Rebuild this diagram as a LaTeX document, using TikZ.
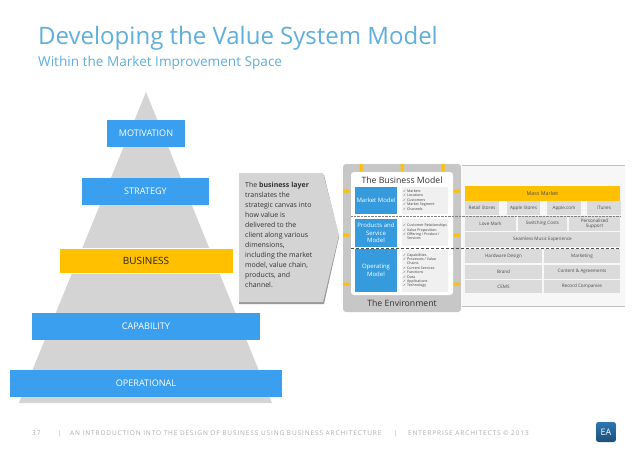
\documentclass[tikz,border=0pt]{standalone}
\usepackage{fontspec}
\setmainfont{Open Sans}
\newfontfamily\tickfont{DejaVu Sans}
\newcommand{\tk}{{\tickfont ✓}}
\usetikzlibrary{shadows}
\definecolor{eablue}{HTML}{3A9FEE}
\definecolor{eamodel}{HTML}{359BDD}
\definecolor{eatitle}{HTML}{5FAEDB}
\definecolor{eagold}{HTML}{FFC000}
\definecolor{eagrey}{HTML}{D4D4D4}
\definecolor{eatext}{HTML}{ABABAB}
\tikzset{
  layerbox/.style={fill=eablue,text=white,font=\fontsize{9.1}{10}\selectfont},
  cell/.style={fill=black!14,text=black!70,inner sep=0,font=\fontsize{4.6}{5.2}\selectfont,align=center},
  modelbox/.style={fill=eamodel,text=white,inner sep=0,font=\fontsize{6}{7.4}\selectfont,align=center},
  ticks/.style={text=black!75,inner sep=0,font=\fontsize{3.6}{4.4}\selectfont,align=left,anchor=west},
  tab/.style={fill=eagold},
  foot/.style={text=eatext,inner sep=0,font=\fontsize{6.5}{7}\selectfont\addfontfeature{LetterSpace=13.6},anchor=west},
}
\begin{document}
\begin{tikzpicture}[x=1pt,y=-1pt]
  \useasboundingbox (0,0) rectangle (638,452);
  % titulo
  \node[text=eatitle,font=\fontsize{24}{28}\selectfont,anchor=west,inner sep=0] (title) at (38,38) {Developing the Value System Model};
  \node[text=eatitle,font=\fontsize{13.6}{16}\selectfont,anchor=west,inner sep=0] (subtitle) at (38,63) {Within the Market Improvement Space};
  % piramide
  \fill[eagrey] (146,92) -- (272,403) -- (19,403) -- cycle;
  \node[layerbox,minimum width=78,minimum height=27] (motivation) at (146,133.5) {MOTIVATION};
  \node[layerbox,minimum width=127,minimum height=27] (strategy) at (145.5,191.5) {STRATEGY};
  \node[fill=eagold,draw=white,line width=1pt,drop shadow={opacity=0.3,shadow xshift=1pt,shadow yshift=-1pt},text=black!85,font=\fontsize{10}{11}\selectfont,minimum width=174,minimum height=25] (business) at (146,260.5) {BUSINESS};
  \node[layerbox,minimum width=228,minimum height=27] (capability) at (146,326.5) {CAPABILITY};
  \node[layerbox,minimum width=272,minimum height=27] (operational) at (146,383.5) {OPERATIONAL};
  % flecha de texto
  \fill[black!40] (239,175) -- (324,175) -- (339,237) -- (324,304) -- (239,304) -- cycle;
  \fill[eagrey] (239,173) -- (323,173) -- (339,235) -- (323,302) -- (239,302) -- cycle;
  \node[anchor=north west,inner sep=0,align=left,text=black!80,font=\fontsize{7}{10}\selectfont] (layertext) at (245,182) {The \textbf{business layer}\\translates the\\strategic canvas into\\how value is\\delivered to the\\client along various\\dimensions,\\including the market\\model, value chain,\\products, and\\channel.};
  % panel de la derecha
  \fill[black!3] (462,165) rectangle (625,306);
  \draw[black!25,line width=0.6pt] (462,165) -- (625,165) (462,306) -- (625,306);
  \fill[rounded corners=3pt,black!22] (343,164) rectangle (461,312);
  \fill[rounded corners=3pt,white] (351,172) rectangle (453,295);
  \node[font=\fontsize{8.7}{10}\selectfont,text=black!80] (bmtitle) at (402,180) {The Business Model};
  \node[font=\fontsize{8.7}{10}\selectfont,text=black!80] (envtitle) at (402,303) {The Environment};
  % pestanas
  \fill[tab] (359.5,164) rectangle (362.5,171) (400.5,164) rectangle (403.5,171) (441.5,164) rectangle (444.5,171);
  \fill[tab] (343,189.5) rectangle (350,192.5) (343,233.5) rectangle (350,236.5) (343,282.5) rectangle (350,285.5);
  \fill[tab] (454,189.5) rectangle (460,192.5) (454,233.5) rectangle (460,236.5) (454,282.5) rectangle (460,285.5);
  % modelos
  \node[modelbox,minimum width=42,minimum height=27] (market) at (376,200.5) {Market Model};
  \node[modelbox,minimum width=42,minimum height=28] (products) at (376,233) {Products and\\Service\\Model};
  \node[modelbox,minimum width=42,minimum height=43] (operating) at (376,270.5) {Operating\\Model};
  \fill[black!6] (402,187) rectangle (448,214) (402,219) rectangle (448,246) (402,250) rectangle (448,292);
  \node[ticks] (marketlist) at (403,200) {\tk\ Markets\\\tk\ Locations\\\tk\ Customers\\\tk\ Market Segment\\\tk\ Channels};
  \node[ticks] (productlist) at (403,232) {\tk\ Customer Relationships\\\tk\ Value Proposition\\\tk\ Offering / Product /\\\phantom{\tk\ }Services};
  \node[ticks] (operatinglist) at (403,270.5) {\tk\ Capabilities\\\tk\ Processes / Value\\\phantom{\tk\ }Chains\\\tk\ Current Services\\\tk\ Functions\\\tk\ Data\\\tk\ Applications\\\tk\ Technology};
  % value system
  \node[fill=eagold,text=black!70,inner sep=0,font=\fontsize{5.3}{6}\selectfont,minimum width=155,minimum height=15] (mass) at (542.5,193.5) {Mass Market};
  \node[cell,minimum width=34,minimum height=14] (retail) at (482,208) {Retail Stores};
  \node[cell,minimum width=33,minimum height=14] (apple) at (523.5,208) {Apple Stores};
  \node[cell,minimum width=34,minimum height=14] (applecom) at (564,208) {Apple.com};
  \node[cell,minimum width=34,minimum height=14] (itunes) at (604,208) {iTunes};
  \node[cell,minimum width=51,minimum height=15] (love) at (490.5,223.5) {Love Mark};
  \node[cell,minimum width=49,minimum height=15] (switching) at (542.5,223.5) {Switching Costs};
  \node[cell,minimum width=51,minimum height=15] (support) at (594.5,223.5) {Personalised\\Support};
  \node[cell,minimum width=155,minimum height=15] (seamless) at (542.5,239.5) {Seamless Music Experience};
  \node[cell,minimum width=77,minimum height=14] (hardware) at (503.5,256) {Hardware Design};
  \node[cell,minimum width=76,minimum height=14] (marketing) at (582,256) {Marketing};
  \node[cell,minimum width=77,minimum height=14] (brand) at (503.5,271.5) {Brand};
  \node[cell,minimum width=76,minimum height=14] (content) at (582,271.5) {Content \& Agreements};
  \node[cell,minimum width=77,minimum height=13] (cems) at (503.5,286.5) {CEMS};
  \node[cell,minimum width=76,minimum height=13] (record) at (582,286.5) {Record Companies};
  \draw[black!50,densely dotted,line width=0.4pt] (351,216) -- (620,216);
  \draw[black!70,densely dashed,line width=0.4pt] (351,247.8) -- (620,247.8);
  % pie
  \node[foot] (page) at (32,433.5) {37};
  \node[foot] (sepone) at (58,433.5) {|};
  \node[foot] (footone) at (70,433.5) {AN INTRODUCTION INTO THE DESIGN OF BUSINESS USING BUSINESS ARCHITECTURE};
  \node[foot] (septwo) at (394,433.5) {|};
  \node[foot] (foottwo) at (408,433.5) {ENTERPRISE ARCHITECTS © 2013};
  \node[top color=eablue!75!black,bottom color=eablue!50!black,rounded corners=2.5pt,text=white,font=\fontsize{9}{10}\selectfont,minimum width=20,minimum height=20,inner sep=0] (logo) at (606,432) {EA};
\end{tikzpicture}
\end{document}
